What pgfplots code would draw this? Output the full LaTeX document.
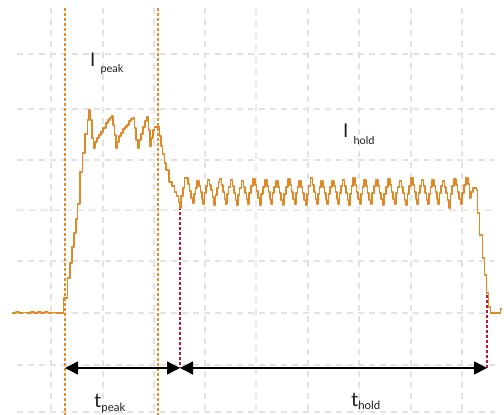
\documentclass[border=0pt]{standalone}
\usepackage{pgfplots}
\pgfplotsset{compat=1.18}
\usepackage{fontspec}
\setmainfont{Lato}
\usetikzlibrary{arrows.meta}
\definecolor{trace}{RGB}{223,137,38}
\definecolor{vline}{RGB}{230,140,45}
\definecolor{redl}{RGB}{190,20,55}
\definecolor{gridc}{RGB}{226,226,226}
\definecolor{gridcc}{RGB}{234,234,234}
\definecolor{txt}{RGB}{30,30,30}
\begin{document}
\begin{tikzpicture}
\begin{axis}[width=504bp,height=415bp,scale only axis,
  xmin=0,xmax=504,ymin=0,ymax=415,y dir=reverse,axis lines=none,
  every axis plot/.append style={line join=round}]
\addplot[draw=none] coordinates {(0,0) (504,415)};
% grid
\pgfplotsset{gs/.style={gridc,line width=1.2bp,dash pattern=on 6bp off 5bp},
             gc/.style={gridcc,line width=2.8bp,dash pattern=on 7bp off 5bp}}
\addplot[gs] coordinates {(51,8) (51,415)};
\addplot[gs] coordinates {(103,8) (103,415)};
\addplot[gs] coordinates {(154,8) (154,415)};
\addplot[gs] coordinates {(205,8) (205,415)};
\addplot[gc] coordinates {(256,8) (256,415)};
\addplot[gs] coordinates {(308,8) (308,415)};
\addplot[gs] coordinates {(359,8) (359,415)};
\addplot[gs] coordinates {(411,8) (411,415)};
\addplot[gs] coordinates {(462,8) (462,415)};
\addplot[gs] coordinates {(17,54) (495,54)};
\addplot[gs] coordinates {(17,109) (495,109)};
\addplot[gs] coordinates {(17,160) (495,160)};
\addplot[gc] coordinates {(17,210) (495,210)};
\addplot[gs] coordinates {(17,261) (495,261)};
\addplot[gs] coordinates {(17,313) (495,313)};
\addplot[gs] coordinates {(17,365) (495,365)};
\addplot[gs] coordinates {(17,412) (495,412)};
% orange dashed markers
\addplot[vline,line width=1.1bp,dash pattern=on 3bp off 2bp] coordinates {(65,8) (65,415)};
\addplot[vline,line width=1.1bp,dash pattern=on 3bp off 2bp] coordinates {(158,8) (158,415)};
% red dashed markers
\addplot[redl,line width=1.1bp,dash pattern=on 3bp off 2bp] coordinates {(180,207) (180,368)};
\addplot[redl,line width=1.1bp,dash pattern=on 3bp off 2bp] coordinates {(487,295) (487,368)};
% trace
\addplot[trace,line width=1.5bp,const plot,mark=none] coordinates {
(12,313) (16,312) (19,313) (23,312.5) (27,313) (31,312) (34,313) (38,312) (41,313) (45,312) (48,313) (52,312.5) (56,313) (63.3,313)
(63.5,298) (67.5,278) (70,263) (72,247) (74,233) (76,219) (77.5,204) (80,172) (82.5,153) (85,134) (87.5,120) (89,110) (90.5,120)
(92,138) (93.5,148) (95,142) (97,138) (99,135) (101,132) (103,128) (106,123) (108,120) (110,118) (111.5,116) (113,125) (114.5,135)
(116,148) (117.5,142) (119,136) (121,133) (123,129) (125,127) (127,125) (129,121) (131,119) (133,118) (134.5,128) (136,140)
(137.5,148) (139,140) (141,134) (143,127) (145,121) (147,117) (148.5,130) (150,146) (151.5,138) (153,130) (154.5,127) (157.5,127)
(159.5,136) (161,146) (162.5,154) (164.5,163) (166,170) (169,182) (172,186) (174.5,192) (176.5,196) (178.5,202) (179.5,208)
(181,196) (183,188) (184.5,178) (188,184) (189.5,191) (191,198) (192.5,203)
(194,194) (195.5,188) (197,181) (199,186) (200.5,192) (202,199) (203,204)
(204.5,193) (206,186) (207.5,180) (209.5,185) (211,190) (212.5,197) (214,205)
(215.5,195) (217,188) (218.5,182) (219.5,179) (221.5,185) (223,192) (224.5,199) (225.5,204)
(227,194) (228.5,187) (230.5,180) (232.5,186) (234,193) (235.5,200) (236.5,205)
(238,195) (239.5,188) (241.5,181) (243.5,187) (245,193) (246.5,199) (247.5,204)
(249,193) (251,186) (253,179) (255,185) (256.5,191) (258,198) (259.5,205)
(261,194) (263,187) (265,180) (267,186) (268.5,192) (270,199) (271,204)
(272.5,193) (274,187) (276,181) (278,187) (279.5,193) (281,200) (282.5,205)
(284,194) (286,187) (288,179) (290,185) (291.5,192) (293,199) (294.5,204)
(296,193) (297.5,187) (299,181) (301,187) (302.5,193) (304,200) (305.5,205)
(307,194) (308.5,186) (310.5,178) (312.5,185) (314,192) (315.5,199) (316.5,204)
(318,194) (319.5,187) (321,181) (323,187) (324.5,193) (326,200) (327,204)
(328.5,194) (330,187) (332,181) (334,186) (335.5,192) (337,199) (338,204)
(339.5,193) (341,186) (342.5,180) (344.5,186) (346,193) (347.5,200) (348.5,205)
(350,194) (351.5,186) (353,178) (355,185) (356.5,192) (358,199) (359.5,204)
(361,194) (362.5,187) (364,180) (366,186) (367.5,193) (369,200) (370.5,204)
(372,193) (374,186) (376,180) (378,186) (379.5,193) (381,199) (382.5,205)
(384,194) (386,187) (388,179) (390,185) (391.5,192) (393,199) (394.5,204)
(396,193) (397.5,187) (399.5,181) (401.5,187) (403,193) (404.5,200) (406,205)
(407.5,194) (409,186) (411,178) (413,185) (414.5,192) (416,199) (417,204)
(418.5,193) (420,186) (421.5,180) (423.5,186) (425,193) (426.5,200) (427.5,204)
(429,194) (430.5,187) (432,180) (434,186) (435.5,192) (437,199) (438,204)
(439.5,193) (441,186) (442.5,181) (444.5,187) (446,193) (447.5,200) (449,208)
(450.5,194) (452,186) (454,179) (456,185) (457.5,192) (459,199) (460.5,204)
(462,193) (464,185) (466,178) (468,184) (469.5,198) (471,192) (473,188) (476.5,190)
(477.5,213) (479.5,235) (482.5,258) (484.5,275) (486.5,293) (488.5,307) (490.5,313) (500.5,309) (502,309)
};
% arrows
\addplot[black,line width=1.5bp,{Triangle[length=13bp,width=13bp]}-{Triangle[length=13bp,width=13bp]}] coordinates {(65,368) (180,368)};
\addplot[black,line width=1.5bp,{Triangle[length=13bp,width=13bp]}-{Triangle[length=13bp,width=13bp]}] coordinates {(180,368) (487,368)};
% labels
\node[txt,anchor=base west,inner sep=0pt,font=\fontsize{19}{19}\selectfont] at (axis cs:90,67) {I\hspace{5bp}\raisebox{-6bp}{\fontsize{11}{11}\selectfont peak}};
\node[txt,anchor=base west,inner sep=0pt,font=\fontsize{19}{19}\selectfont] at (axis cs:343,137) {I\hspace{5bp}\raisebox{-7bp}{\fontsize{11}{11}\selectfont hold}};
\node[txt,anchor=base west,inner sep=0pt,font=\fontsize{20}{20}\selectfont] at (axis cs:94,407) {t\raisebox{-4bp}{\fontsize{11.5}{11.5}\selectfont peak}};
\node[txt,anchor=base west,inner sep=0pt,font=\fontsize{20}{20}\selectfont] at (axis cs:351,406) {t\raisebox{-3bp}{\fontsize{11.5}{11.5}\selectfont hold}};
\end{axis}
\end{tikzpicture}
\end{document}
